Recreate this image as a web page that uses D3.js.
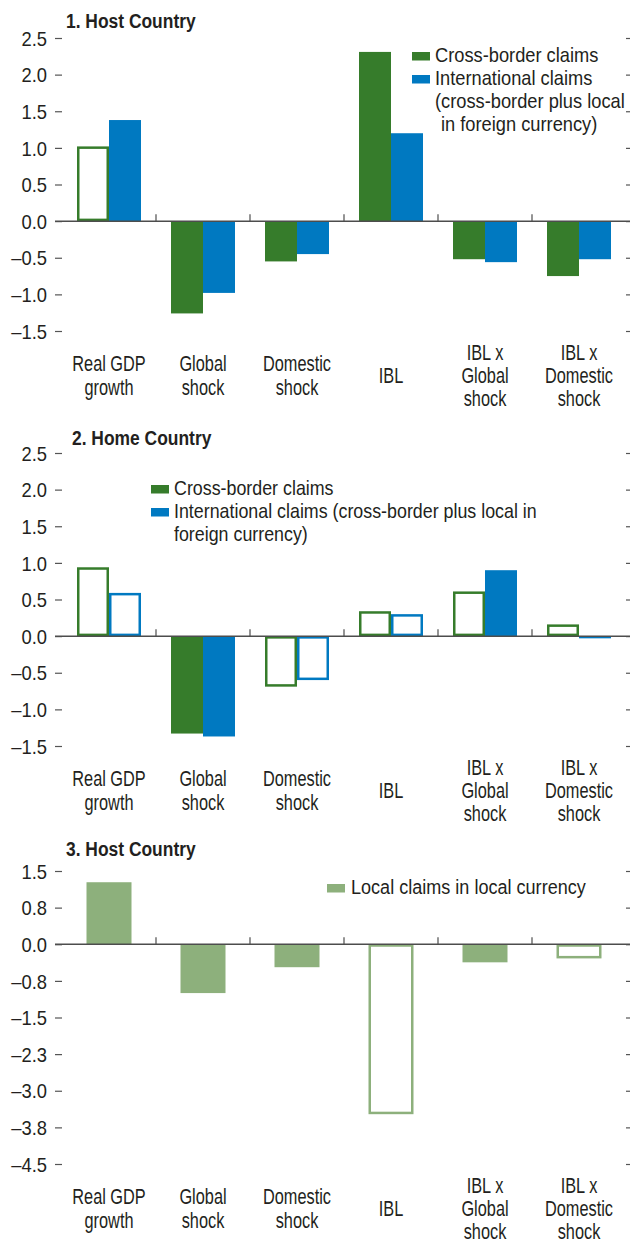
<!DOCTYPE html>
<html>
<head>
<meta charset="utf-8">
<script src="https://cdn.jsdelivr.net/npm/d3@7"></script>
<style>
  body { margin: 0; background: #fff; }
  svg text { font-family: "Liberation Sans", Arial, sans-serif; fill: #231f20; }
</style>
</head>
<body>
<script>
// categories along the x axis (multi-line labels)
const categories = [
  ["Real GDP", "growth"],
  ["Global", "shock"],
  ["Domestic", "shock"],
  ["IBL"],
  ["IBL x", "Global", "shock"],
  ["IBL x", "Domestic", "shock"]
];

// panel 1: host country
const hostCrossBorder = [1.02, -1.26, -0.55, 2.31, -0.52, -0.75];
const hostInternational = [1.38, -0.98, -0.45, 1.2, -0.56, -0.52];
const hostCrossSolid = [false, true, true, true, true, true];
const hostIntlSolid = [true, true, true, true, true, true];

// panel 2: home country
const homeCrossBorder = [0.94, -1.33, -0.69, 0.34, 0.61, 0.16];
const homeInternational = [0.59, -1.37, -0.6, 0.3, 0.9, -0.03];
const homeCrossSolid = [false, true, false, false, false, false];
const homeIntlSolid = [false, true, false, false, true, true];

// panel 3: host country, local claims
const hostLocal = [1.27, -1.0, -0.47, -3.48, -0.37, -0.29];
const hostLocalSolid = [true, true, true, false, true, false];

// y ticks
const ticksTop = [-1.5, -1, -0.5, 0, 0.5, 1, 1.5, 2, 2.5];
const tickLabelsTop = ["–1.5", "–1.0", "–0.5", "0.0", "0.5", "1.0", "1.5", "2.0", "2.5"];
const ticksLocal = [-4.5, -3.75, -3, -2.25, -1.5, -0.75, 0, 0.75, 1.5];
const tickLabelsLocal = ["–4.5", "–3.8", "–3.0", "–2.3", "–1.5", "–0.8", "0.0", "0.8", "1.5"];

const GREEN = "#367c2b";
const BLUE = "#0079c1";
const LIGHT = "#8db07c";

const W = 630, H = 1243;
const svg = d3.select("body").append("svg").attr("width", W).attr("height", H);

const x = d3.scaleBand().domain(d3.range(categories.length)).range([62, 626]);

// condensed look: regular face squeezed horizontally
const label = (g, lx, ly, lines, size, sx, anchor, lh) => {
  const t = g.append("text")
    .attr("transform", `translate(${lx},${ly}) scale(${sx},1)`)
    .attr("text-anchor", anchor || "start")
    .style("font-size", size + "px");
  lines.forEach((ln, i) => {
    t.append("tspan").attr("x", 0).attr("y", i * (lh || 0)).text(ln);
  });
  return t;
};

const drawPanel = (p) => {
  const g = svg.append("g");
  const y = d3.scaleLinear().domain(p.domain).range(p.range);

  // title
  label(g, p.titleX, p.titleY, [p.title], 20.5, 0.85).style("font-weight", "bold");

  // left ticks + labels
  const yaxis = d3.axisLeft(y).tickValues(p.ticks).tickSize(7)
    .tickFormat((d, i) => p.tickLabels[i]);
  const ax = g.append("g").attr("transform", "translate(62,0)").call(yaxis);
  ax.select(".domain").remove();
  ax.selectAll("line").attr("stroke", "#555").attr("stroke-width", 1.2);
  ax.selectAll("text").attr("x", 0).attr("dy", "0.36em")
    .attr("transform", "translate(-15,0) scale(0.92,1)")
    .attr("fill", "#231f20")
    .style("font-size", "20px")
    .style("font-family", "Liberation Sans, Arial, sans-serif");

  // right ticks
  const raxis = d3.axisRight(y).tickValues(p.ticks).tickSize(7).tickFormat("");
  const rax = g.append("g").attr("transform", "translate(626,0)").call(raxis);
  rax.select(".domain").remove();
  rax.selectAll("line").attr("stroke", "#555").attr("stroke-width", 1.2);

  // bars
  const inner = d3.scaleBand().domain(d3.range(p.series.length))
    .range([0, p.barW * p.series.length]);
  const offset = (x.bandwidth() - p.barW * p.series.length) / 2;

  p.series.forEach((s, si) => {
    const rows = s.values.map((v, i) => ({ v, i, solid: s.solid[i] }));
    g.append("g").selectAll("rect").data(rows).join("rect")
      .each(function (d) {
        const x0 = x(d.i) + offset + inner(si);
        const top = y(Math.max(0, d.v));
        const bot = y(Math.min(0, d.v));
        const sw = 2.5;
        const r = d3.select(this);
        if (d.solid) {
          r.attr("x", x0).attr("y", top).attr("width", inner.bandwidth())
            .attr("height", bot - top).attr("fill", s.color);
        } else {
          r.attr("x", x0 + sw / 2).attr("y", top + sw / 2)
            .attr("width", inner.bandwidth() - sw).attr("height", Math.max(0, bot - top - sw))
            .attr("fill", "#fff").attr("stroke", s.color).attr("stroke-width", sw);
        }
      });
  });

  // zero line
  g.append("line").attr("x1", 55).attr("x2", 633)
    .attr("y1", y(0)).attr("y2", y(0))
    .attr("stroke", "#4d4d4d").attr("stroke-width", 1.5);

  // category separators
  g.append("g").selectAll("line").data(d3.range(1, categories.length)).join("line")
    .attr("x1", (d) => x(d)).attr("x2", (d) => x(d))
    .attr("y1", y(0) - 7).attr("y2", y(0))
    .attr("stroke", "#4d4d4d").attr("stroke-width", 1.2);

  // category labels
  const labelMid = y(p.domain[0]) + 45;
  const lh = 23.5;
  categories.forEach((lines, i) => {
    label(g, x(i) + x.bandwidth() / 2,
      labelMid - ((lines.length - 1) / 2) * lh + 7,
      lines, 21.5, 0.76, "middle", lh);
  });

  // legend
  p.legend.forEach((item) => {
    g.append("rect").attr("x", item.sx).attr("y", item.sy)
      .attr("width", 18).attr("height", 8.5).attr("fill", item.color);
  });
  p.legendText.forEach((ln) => {
    label(g, ln.x, ln.y, [ln.text], 21, p.legendScale);
  });
};

drawPanel({
  title: "1. Host Country", titleX: 66, titleY: 28,
  domain: [-1.5, 2.5], range: [331, 38],
  ticks: ticksTop, tickLabels: tickLabelsTop, barW: 32,
  series: [
    { values: hostCrossBorder, solid: hostCrossSolid, color: GREEN },
    { values: hostInternational, solid: hostIntlSolid, color: BLUE }
  ],
  legend: [
    { sx: 412, sy: 52, color: GREEN },
    { sx: 412, sy: 75, color: BLUE }
  ],
  legendScale: 0.87,
  legendText: [
    { x: 435, y: 62, text: "Cross-border claims" },
    { x: 435, y: 85, text: "International claims" },
    { x: 435, y: 108, text: "(cross-border plus local" },
    { x: 441, y: 131, text: "in foreign currency)" }
  ]
});

drawPanel({
  title: "2. Home Country", titleX: 72, titleY: 445,
  domain: [-1.5, 2.5], range: [746, 453],
  ticks: ticksTop, tickLabels: tickLabelsTop, barW: 32,
  series: [
    { values: homeCrossBorder, solid: homeCrossSolid, color: GREEN },
    { values: homeInternational, solid: homeIntlSolid, color: BLUE }
  ],
  legend: [
    { sx: 151, sy: 485, color: GREEN },
    { sx: 151, sy: 508, color: BLUE }
  ],
  legendScale: 0.85,
  legendText: [
    { x: 174, y: 495, text: "Cross-border claims" },
    { x: 174, y: 518, text: "International claims (cross-border plus local in" },
    { x: 174, y: 541, text: "foreign currency)" }
  ]
});

drawPanel({
  title: "3. Host Country", titleX: 66, titleY: 856,
  domain: [-4.5, 1.5], range: [1164, 871],
  ticks: ticksLocal, tickLabels: tickLabelsLocal, barW: 45,
  series: [
    { values: hostLocal, solid: hostLocalSolid, color: LIGHT }
  ],
  legend: [
    { sx: 327, sy: 884, color: LIGHT }
  ],
  legendScale: 0.86,
  legendText: [
    { x: 351, y: 894, text: "Local claims in local currency" }
  ]
});
</script>
</body>
</html>
